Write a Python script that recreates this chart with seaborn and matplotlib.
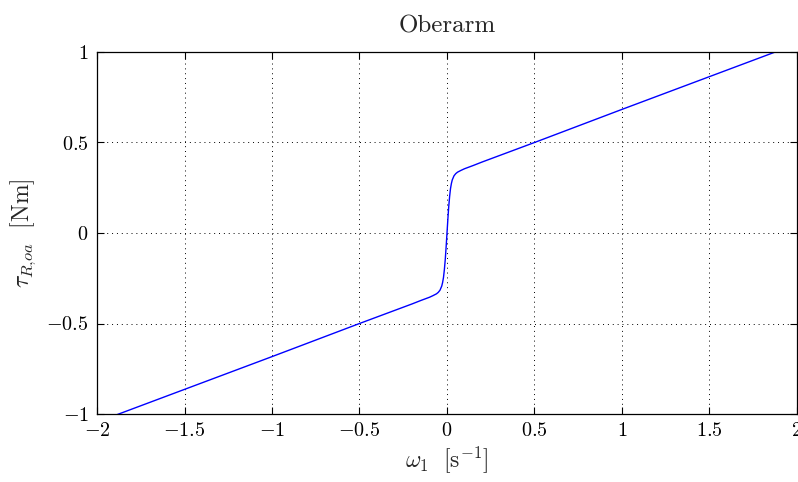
import numpy as np
import pandas as pd
import seaborn as sns
import matplotlib
matplotlib.use("Agg")
import matplotlib.pyplot as plt

# Friction torque curve (omega_1 in 1/s, tau in Nm)
omega = [-2.0, -1.5, -1.0, -0.5, -0.3, -0.2, -0.15, -0.1, -0.08, -0.06, -0.05,
         -0.04, -0.03, -0.025, -0.02, -0.015, -0.01, -0.005, 0.0,
         0.005, 0.01, 0.015, 0.02, 0.025, 0.03, 0.04, 0.05, 0.06, 0.08,
         0.1, 0.15, 0.2, 0.3, 0.5, 1.0, 1.5, 2.0]
tau = [-1.045, -0.864, -0.683, -0.500, -0.428, -0.392, -0.373, -0.355, -0.346,
       -0.336, -0.328, -0.316, -0.293, -0.273, -0.245, -0.202, -0.147, -0.077, 0.0,
       0.077, 0.147, 0.202, 0.245, 0.273, 0.293, 0.316, 0.328, 0.336, 0.346,
       0.355, 0.373, 0.392, 0.428, 0.500, 0.683, 0.864, 1.045]

xticks = [-2, -1.5, -1, -0.5, 0, 0.5, 1, 1.5, 2]
yticks = [-1, -0.5, 0, 0.5, 1]

df = pd.DataFrame({"omega": omega, "tau": tau})

sns.set_style("ticks")
plt.rcParams["font.family"] = "serif"
plt.rcParams["font.serif"] = ["cmr10", "DejaVu Serif"]
plt.rcParams["mathtext.fontset"] = "cm"
plt.rcParams["axes.formatter.use_mathtext"] = True
plt.rcParams["axes.unicode_minus"] = True

fig = plt.figure(figsize=(7.98, 4.82), dpi=100)
ax = fig.add_axes([97 / 798, 1 - 414 / 482, 700 / 798, 362 / 482])

sns.lineplot(data=df, x="omega", y="tau", color="#0000ff", linewidth=1.0, ax=ax)

ax.set_xlim(-2, 2)
ax.set_ylim(-1, 1)
ax.set_xticks(xticks)
ax.set_yticks(yticks)
ax.set_xticklabels([f"${t:g}$" for t in xticks])
ax.set_yticklabels([f"${t:g}$" for t in yticks])
ax.tick_params(direction="in", top=True, right=True, length=5, width=0.8,
               labelsize=14.5, colors="black", pad=6)
for s in ax.spines.values():
    s.set_linewidth(0.9)
    s.set_color("black")
    s.set_visible(True)

ax.grid(True, color="black", linestyle=(0, (1, 4)), linewidth=0.7)

ax.set_title("Oberarm", fontsize=18, pad=14)
ax.set_xlabel(r"$\omega_1\ \ [\mathrm{s}^{-1}]$", fontsize=17, labelpad=3)
ax.set_ylabel(r"$\tau_{R,\!oa}\ \ [\mathrm{Nm}]$", fontsize=17, labelpad=6)

fig.savefig("out.png", dpi=100)
